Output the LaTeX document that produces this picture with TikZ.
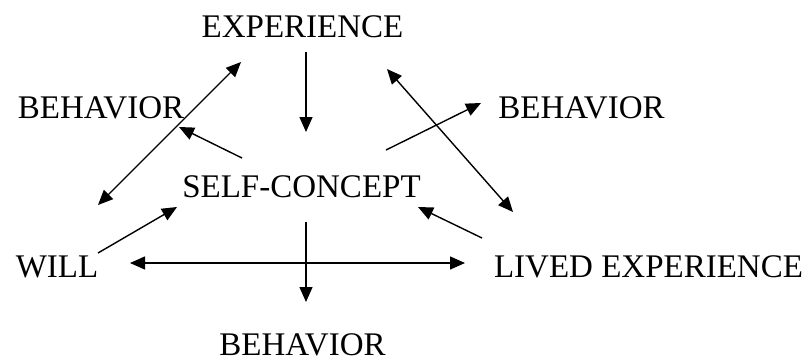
\documentclass[tikz,border=0pt]{standalone}
\usepackage{fontspec}
\setmainfont{Liberation Serif}
\usetikzlibrary{arrows.meta}
\begin{document}
\begin{tikzpicture}[x=1pt,y=-1pt,
  lbl/.style={anchor=base,inner sep=0pt,font=\fontsize{33}{36}\selectfont},
  conn/.style={line width=1.4pt,-{Triangle[length=15pt,width=13pt]}},
  dconn/.style={line width=1.4pt,{Triangle[length=15pt,width=13pt]}-{Triangle[length=15pt,width=13pt]}}]
\useasboundingbox (0,0) rectangle (809,360);
\node[lbl] (exp) at (302.5,37) {EXPERIENCE};
\node[lbl] (bl) at (101,118) {BEHAVIOR};
\node[lbl] (br) at (581.5,118) {BEHAVIOR};
\node[lbl] (sc) at (301.5,197) {SELF-CONCEPT};
\node[lbl] (will) at (57,277) {WILL};
\node[lbl] (lived) at (648.5,277) {LIVED EXPERIENCE};
\node[lbl] (bb) at (302.5,355.5) {BEHAVIOR};
\draw[conn] ([shift={(3.5,15)}]exp.base) -- ([shift={(4.5,-65)}]sc.base);
\draw[dconn] ([shift={(41,-72)}]will.base) -- ([shift={(-61.5,25)}]exp.base);
\draw[conn] ([shift={(-59.5,-39)}]sc.base) -- ([shift={(78,9)}]bl.base);
\draw[conn] ([shift={(84.5,-47)}]sc.base) -- ([shift={(-100.5,-15)}]br.base);
\draw[dconn] ([shift={(84.5,32)}]exp.base) -- ([shift={(-135.5,-65)}]lived.base);
\draw[conn] ([shift={(-166.5,-39)}]lived.base) -- ([shift={(116.5,10)}]sc.base);
\draw[conn] ([shift={(41,-24)}]will.base) -- ([shift={(-124.5,10)}]sc.base);
\draw[dconn] ([shift={(73,-14)}]will.base) -- ([shift={(-183.5,-14)}]lived.base);
\draw[conn] ([shift={(4.5,25)}]sc.base) -- ([shift={(3.5,-53.5)}]bb.base);
\end{tikzpicture}
\end{document}
